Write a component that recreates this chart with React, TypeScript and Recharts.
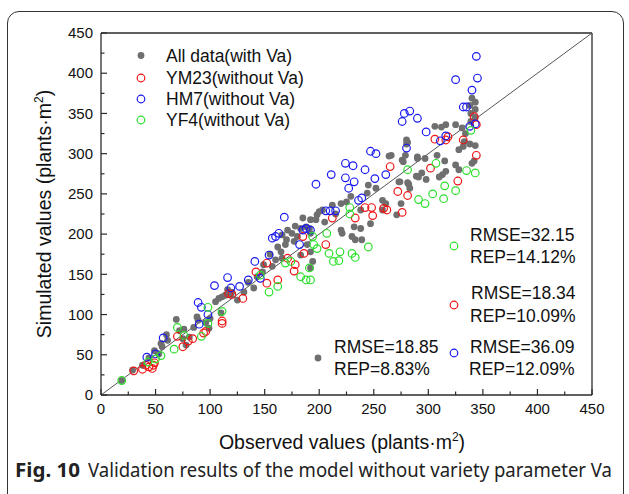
import React from 'react';
import { ScatterChart, Scatter, XAxis, YAxis, ReferenceLine } from 'recharts';

// ---- data (observed, simulated) ----
const allData: number[][] = [
  [19,18],[29,31],[38,37],[44,46],[49,55],[53,51],[56,60],[55,64],[61,68],[69,94],[72,80],[76,82],[78,62],[75,70],[81,72],
  [88,97],[89,93],[96,90],[99,83],[105,116],[108,120],[111,122],[114,124],[110,102],[116,131],[119,124],[131,128],[140,133],
  [149,162],[148,153],[157,160],[160,168],[162,184],[165,178],[169,187],[170,193],[177,191],[180,197],[183,207],[188,209],
  [191,207],[192,201],[198,224],[197,218],[189,187],[192,178],[194,166],[192,158],[166,170],[183,174],[203,230],[171,205],
  [175,201],[166,199],[200,228],[192,218],[185,220],[212,236],[220,238],[229,247],[244,251],[245,261],[252,257],[258,242],
  [232,209],[238,207],[220,205],[247,213],[275,238],[271,224],[238,230],[221,201],[230,197],[233,193],[239,193],[266,298],
  [276,292],[290,294],[291,271],[274,265],[282,262],[283,257],[281,314],[340,369],[343,364],[338,360],[343,355],[339,350],
  [343,345],[339,340],[325,336],[316,336],[306,334],[312,333],[331,332],[334,325],[333,315],[338,312],[343,310],[332,309],
  [328,305],[280,312],[290,296],[277,290],[297,294],[308,298],[315,291],[316,278],[313,274],[325,286],[328,280],[340,288],
  [342,291],[294,276],[298,268],[289,272],[281,264],[273,265],[310,271],[125,118],[135,140],[143,147],[60,75],[85,84],
  [205,215],[215,225],[225,240],[261,238],[258,230],[178,210],[120,128],[100,95],[155,175],[264,297],[279,298],[280,317]
];
const ym23: number[][] = [
  [30,30],[38,32],[41,37],[44,35],[48,37],[49,40],[47,33],[70,73],[75,60],[80,67],[84,70],[94,77],[96,79],[111,89],[111,92],
  [120,125],[117,126],[130,120],[142,153],[152,164],[152,139],[162,143],[171,170],[178,162],[177,154],[186,176],[185,197],
  [206,187],[212,220],[233,220],[242,233],[248,233],[249,223],[259,232],[262,230],[265,284],[272,253],[281,248],[276,227],
  [302,282],[306,318],[316,317],[318,321],[332,317],[327,266],[342,346],[344,336],[344,298]
];
const hm7: number[][] = [
  [42,47],[50,51],[57,71],[90,88],[89,115],[92,109],[98,100],[104,136],[116,146],[119,133],[127,135],[135,143],[141,166],
  [146,145],[154,174],[157,195],[160,197],[163,201],[168,221],[182,187],[185,205],[188,207],[192,205],[197,262],[206,229],
  [210,229],[215,229],[211,274],[224,288],[231,285],[242,280],[224,270],[232,265],[227,257],[251,269],[261,274],[236,242],
  [239,245],[247,303],[252,300],[280,307],[276,340],[278,350],[283,353],[290,344],[298,327],[311,316],[316,322],[325,392],
  [344,421],[345,394],[340,379],[332,358],[335,358],[338,334],[343,337]
];
const yf4: number[][] = [
  [19,18],[43,41],[50,45],[55,49],[67,57],[70,84],[76,74],[92,73],[98,89],[98,109],[111,104],[146,149],[154,128],[162,135],
  [169,164],[174,166],[183,147],[188,143],[192,143],[191,158],[195,187],[198,182],[194,197],[207,201],[209,176],[213,166],
  [219,178],[230,176],[233,171],[218,167],[228,233],[228,225],[245,184],[281,280],[291,243],[297,238],[304,250],[307,288],
  [314,244],[315,260],[325,254],[335,279],[343,276],[339,329]
];
const axisTicks = [0,25,50,75,100,125,150,175,200,225,250,275,300,325,350,375,400,425,450];

const toPts = (a: number[][]) => a.map(([x, y]) => ({ x, y }));

const AX = '#2b2b2b';
const FONT = '"Liberation Sans", Arial, sans-serif';
const TM = 8;

const XTick = (props: any) => {
  const { x, y, payload } = props;
  const v = payload.value;
  const major = v % 50 === 0;
  const axisY = y - TM;
  return (
    <g>
      <line x1={x} x2={x} y1={axisY} y2={axisY - (major ? 6 : 3.5)} stroke={AX} strokeWidth={1.2} />
      {major && (
        <text x={x} y={axisY + 14} dy="0.35em" textAnchor="middle" fontSize={15} fontFamily={FONT} fill="#111">{v}</text>
      )}
    </g>
  );
};

const YTick = (props: any) => {
  const { x, y, payload } = props;
  const v = payload.value;
  const major = v % 50 === 0;
  const axisX = x + TM;
  return (
    <g>
      <line x1={axisX} x2={axisX + (major ? 6 : 3.5)} y1={y} y2={y} stroke={AX} strokeWidth={1.2} />
      {major && (
        <text x={axisX - 8} y={y} dy="0.35em" textAnchor="end" fontSize={15} fontFamily={FONT} fill="#111">{v}</text>
      )}
    </g>
  );
};

const hollow = (color: string) => (p: any) => (
  <circle cx={p.cx} cy={p.cy} r={3.8} fill="none" stroke={color} strokeWidth={1.2} />
);
const filled = (p: any) => <circle cx={p.cx} cy={p.cy} r={3.4} fill="#6f6f6f" />;

const RED = '#f01414';
const BLUE = '#1a1af0';
const GREEN = '#2de02d';
const GRAY = '#6f6f6f';

export default function App() {
  return (
    <div style={{ position: 'absolute', left: 0, top: 0, width: 629, height: 494, background: '#fff', overflow: 'hidden' }}>
      <div style={{ position: 'absolute', left: 7, top: 11, width: 617, height: 600, border: '1.5px solid #333', borderRadius: 12, boxSizing: 'border-box' }} />
      <div style={{ position: 'absolute', left: 0, top: 0 }}>
        <ScatterChart width={629} height={494} margin={{ top: 33, right: 37, bottom: 0, left: 0 }}>
          <XAxis type="number" dataKey="x" domain={[0, 450]} ticks={axisTicks} interval={0} tickSize={0} tickMargin={TM}
            height={99} axisLine={{ stroke: AX, strokeWidth: 1.3 }} tick={<XTick />} allowDataOverflow />
          <YAxis type="number" dataKey="y" domain={[0, 450]} ticks={axisTicks} interval={0} tickSize={0} tickMargin={TM}
            width={101} axisLine={{ stroke: AX, strokeWidth: 1.3 }} tick={<YTick />} allowDataOverflow />
          <ReferenceLine y={450} stroke={AX} strokeWidth={1.3} ifOverflow="visible" />
          <ReferenceLine x={450} stroke={AX} strokeWidth={1.3} ifOverflow="visible" />
          <ReferenceLine segment={[{ x: 0, y: 0 }, { x: 450, y: 450 }]} stroke="#555" strokeWidth={1} ifOverflow="visible" />
          <Scatter data={toPts(allData)} shape={filled} isAnimationActive={false} />
          <Scatter data={toPts(ym23)} shape={hollow(RED)} isAnimationActive={false} />
          <Scatter data={toPts(hm7)} shape={hollow(BLUE)} isAnimationActive={false} />
          <Scatter data={toPts(yf4)} shape={hollow(GREEN)} isAnimationActive={false} />
        </ScatterChart>
      </div>
      <svg width={629} height={494} style={{ position: 'absolute', left: 0, top: 0, pointerEvents: 'none' }}>
        <g fontFamily={FONT} fontSize={17.5} fill="#111">
          <circle cx={141} cy={55.5} r={3.4} fill={GRAY} />
          <text x={166} y={56} dy="0.35em">All data(with Va)</text>
          <circle cx={141} cy={78} r={3.8} fill="none" stroke={RED} strokeWidth={1.2} />
          <text x={166} y={78} dy="0.35em">YM23(without Va)</text>
          <circle cx={141} cy={99} r={3.8} fill="none" stroke={BLUE} strokeWidth={1.2} />
          <text x={166} y={99} dy="0.35em">HM7(without Va)</text>
          <circle cx={141} cy={120} r={3.8} fill="none" stroke={GREEN} strokeWidth={1.2} />
          <text x={166} y={120} dy="0.35em">YF4(without Va)</text>

          <circle cx={454} cy={246} r={3.8} fill="none" stroke={GREEN} strokeWidth={1.2} />
          <text x={470} y={235} dy="0.35em">RMSE=32.15</text>
          <text x={470} y={257} dy="0.35em">REP=14.12%</text>
          <circle cx={454} cy={305} r={3.8} fill="none" stroke={RED} strokeWidth={1.2} />
          <text x={471} y={293} dy="0.35em">RMSE=18.34</text>
          <text x={470} y={316} dy="0.35em">REP=10.09%</text>
          <circle cx={454} cy={353} r={3.8} fill="none" stroke={BLUE} strokeWidth={1.2} />
          <text x={470} y={347} dy="0.35em">RMSE=36.09</text>
          <text x={469} y={369} dy="0.35em">REP=12.09%</text>
          <circle cx={318} cy={358} r={3.4} fill={GRAY} />
          <text x={334} y={347} dy="0.35em">RMSE=18.85</text>
          <text x={334} y={369} dy="0.35em">REP=8.83%</text>
        </g>
        <g fontFamily={FONT} fontSize={19.5} fill="#111">
          <text x={342} y={449} textAnchor="middle">
            Observed values (plants·m<tspan fontSize={12} dy={-8}>2</tspan><tspan dy={8}>)</tspan>
          </text>
          <text x={0} y={0} transform="translate(51,214) rotate(-90)" textAnchor="middle">
            Simulated values (plants·m<tspan fontSize={12} dy={-8}>2</tspan><tspan dy={8}>)</tspan>
          </text>
        </g>
        <g fontFamily='"Noto Sans", "Open Sans", sans-serif' fontSize={19} fill="#222">
          <text x={15} y={477} fontWeight="bold" textLength={65} lengthAdjust="spacingAndGlyphs">Fig. 10</text>
          <text x={88} y={477} textLength={524} lengthAdjust="spacingAndGlyphs">Validation results of the model without variety parameter Va</text>
        </g>
      </svg>
    </div>
  );
}
